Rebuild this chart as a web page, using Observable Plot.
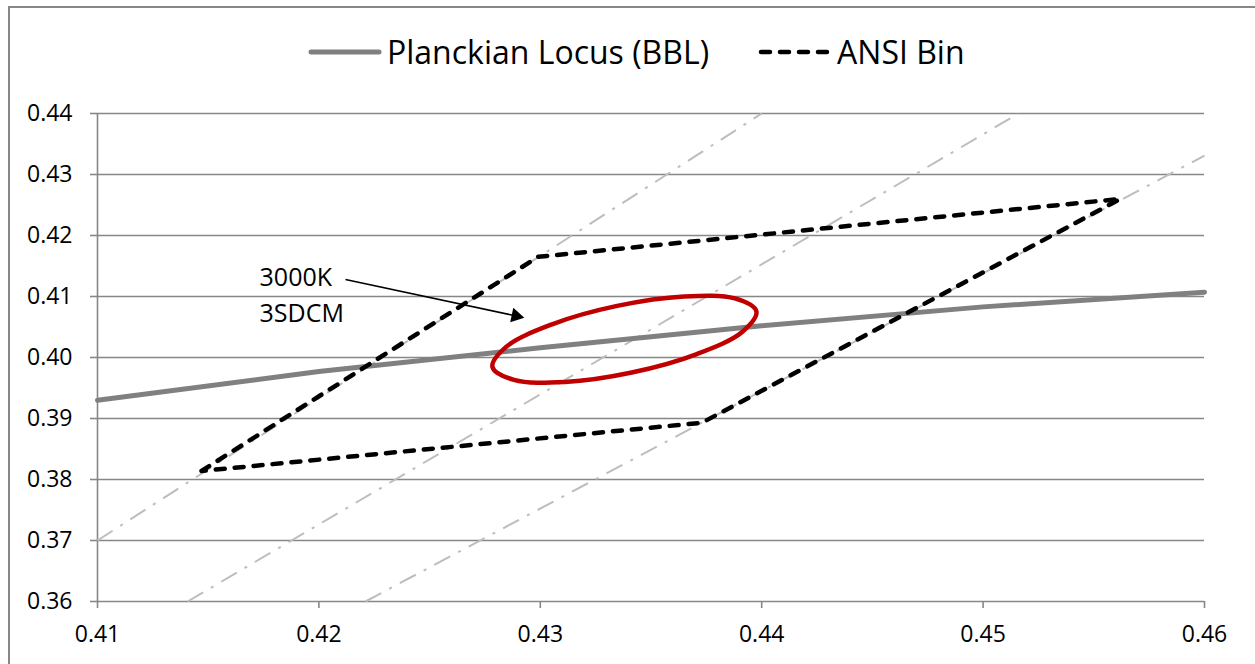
<!DOCTYPE html>
<html><head><meta charset="utf-8">
<script src="https://cdn.jsdelivr.net/npm/d3@7"></script>
<script src="https://cdn.jsdelivr.net/npm/@observablehq/plot@0.6"></script>
<style>
html,body{margin:0;padding:0;overflow:hidden;background:#fff;width:1255px;height:664px;font-family:"Open Sans",sans-serif;}
#frame{position:absolute;left:8px;top:6px;width:1400px;height:800px;border-left:2px solid #878787;border-top:2px solid #878787;}
#legend{position:absolute;left:308px;top:27px;height:50px;display:flex;align-items:center;font-size:32px;color:#000;white-space:nowrap;}
#legend span{line-height:50px;}
#chart{position:absolute;left:0;top:100px;}
</style></head><body>
<div id="frame"></div>
<div id="legend">
  <svg width="74" height="12"><line x1="3" y1="6" x2="71" y2="6" stroke="#808080" stroke-width="5" stroke-linecap="round"/></svg>
  <span style="margin-left:5px">Planckian Locus (BBL)</span>
  <svg width="78" height="12" style="margin-left:48px"><line x1="4" y1="6" x2="74" y2="6" stroke="#000" stroke-width="4.5" stroke-dasharray="9,10" stroke-linecap="round"/></svg>
  <span style="margin-left:2px">ANSI Bin</span>
</div>
<div id="chart"></div>
<script>
// axis ticks
const xTicks = [0.41, 0.42, 0.43, 0.44, 0.45, 0.46];
const yTicks = [0.36, 0.37, 0.38, 0.39, 0.40, 0.41, 0.42, 0.43, 0.44];

// Planckian locus (BBL)
const bblX = [0.41, 0.42, 0.43, 0.44, 0.45, 0.46];
const bblY = [0.3930, 0.3977, 0.4016, 0.4052, 0.4083, 0.4107];

// ANSI 3000K bin quadrilateral (closed)
const binX = [0.4147, 0.4299, 0.4562, 0.4373, 0.4147];
const binY = [0.3814, 0.4165, 0.4260, 0.3893, 0.3814];

// isotemperature (dash-dot) lines, start and end
const isoX1 = [0.41, 0.41407, 0.4221];
const isoY1 = [0.37, 0.36, 0.36];
const isoX2 = [0.44, 0.4516, 0.46];
const isoY2 = [0.44, 0.44, 0.4331];

// 3-step MacAdam ellipse outline points
const ellX = [0.43879, 0.43649, 0.43347, 0.43053, 0.42847, 0.42784, 0.42881, 0.43111, 0.43413, 0.43707, 0.43913, 0.43976];
const ellY = [0.40968, 0.41001, 0.40846, 0.40544, 0.40178, 0.39844, 0.39632, 0.39599, 0.39754, 0.40056, 0.40422, 0.40756];

// annotation
const noteText = ["3000K", "3SDCM"];
const noteX = [0.41732, 0.41732];
const noteY = [0.41303, 0.40705];
const arrowFrom = [0.42120, 0.41279];
const arrowTo = [0.42890, 0.40682];

const idx = n => d3.range(n);
const grid = "#878787";

const plot = Plot.plot({
  width: 1255,
  height: 564,
  marginTop: 13,
  marginBottom: 63,
  marginLeft: 97,
  marginRight: 51,
  style: {fontFamily: "'Open Sans', sans-serif", fontSize: "23px", color: "#000", background: "transparent", overflow: "visible"},
  x: {domain: [0.41, 0.46]},
  y: {domain: [0.36, 0.44]},
  marks: [
    Plot.ruleY(yTicks, {stroke: grid, strokeWidth: 1.6}),
    Plot.ruleX([0.41], {stroke: grid, strokeWidth: 1.6}),
    Plot.axisY(yTicks, {tickSize: 7, tickPadding: 18, fontSize: 23, tickFormat: d3.format(".2f"), stroke: grid, strokeWidth: 1.6, fill: "#000", label: null}),
    Plot.axisX(xTicks, {tickSize: 7, tickPadding: 17, fontSize: 23, tickFormat: d3.format(".2f"), stroke: grid, strokeWidth: 1.6, fill: "#000", label: null}),
    Plot.link(idx(3), {x1: i => isoX1[i], y1: i => isoY1[i], x2: i => isoX2[i], y2: i => isoY2[i], stroke: "#bdbdbd", strokeWidth: 2, strokeDasharray: "18,9,3,9"}),
    Plot.line(idx(bblX.length), {x: i => bblX[i], y: i => bblY[i], stroke: "#808080", strokeWidth: 5}),
    Plot.line(idx(binX.length), {x: i => binX[i], y: i => binY[i], stroke: "#000", strokeWidth: 4.5, strokeDasharray: "9,10", strokeLinecap: "round", strokeLinejoin: "round"}),
    Plot.line(idx(ellX.length), {x: i => ellX[i], y: i => ellY[i], curve: "catmull-rom-closed", stroke: "#c00000", strokeWidth: 4.5}),
    Plot.link([0], {x1: () => arrowFrom[0], y1: () => arrowFrom[1], x2: () => arrowTo[0], y2: () => arrowTo[1], stroke: "#000", strokeWidth: 1.6}),
    Plot.dot([0], {x: () => arrowTo[0], y: () => arrowTo[1], symbol: "triangle", r: 5.5, rotate: 102, fill: "#000", stroke: "none"}),
    Plot.text(idx(2), {x: i => noteX[i], y: i => noteY[i], text: i => noteText[i], textAnchor: "start", fontSize: 25, fill: "#000"})
  ]
});
document.getElementById("chart").appendChild(plot);
</script>
</body></html>
